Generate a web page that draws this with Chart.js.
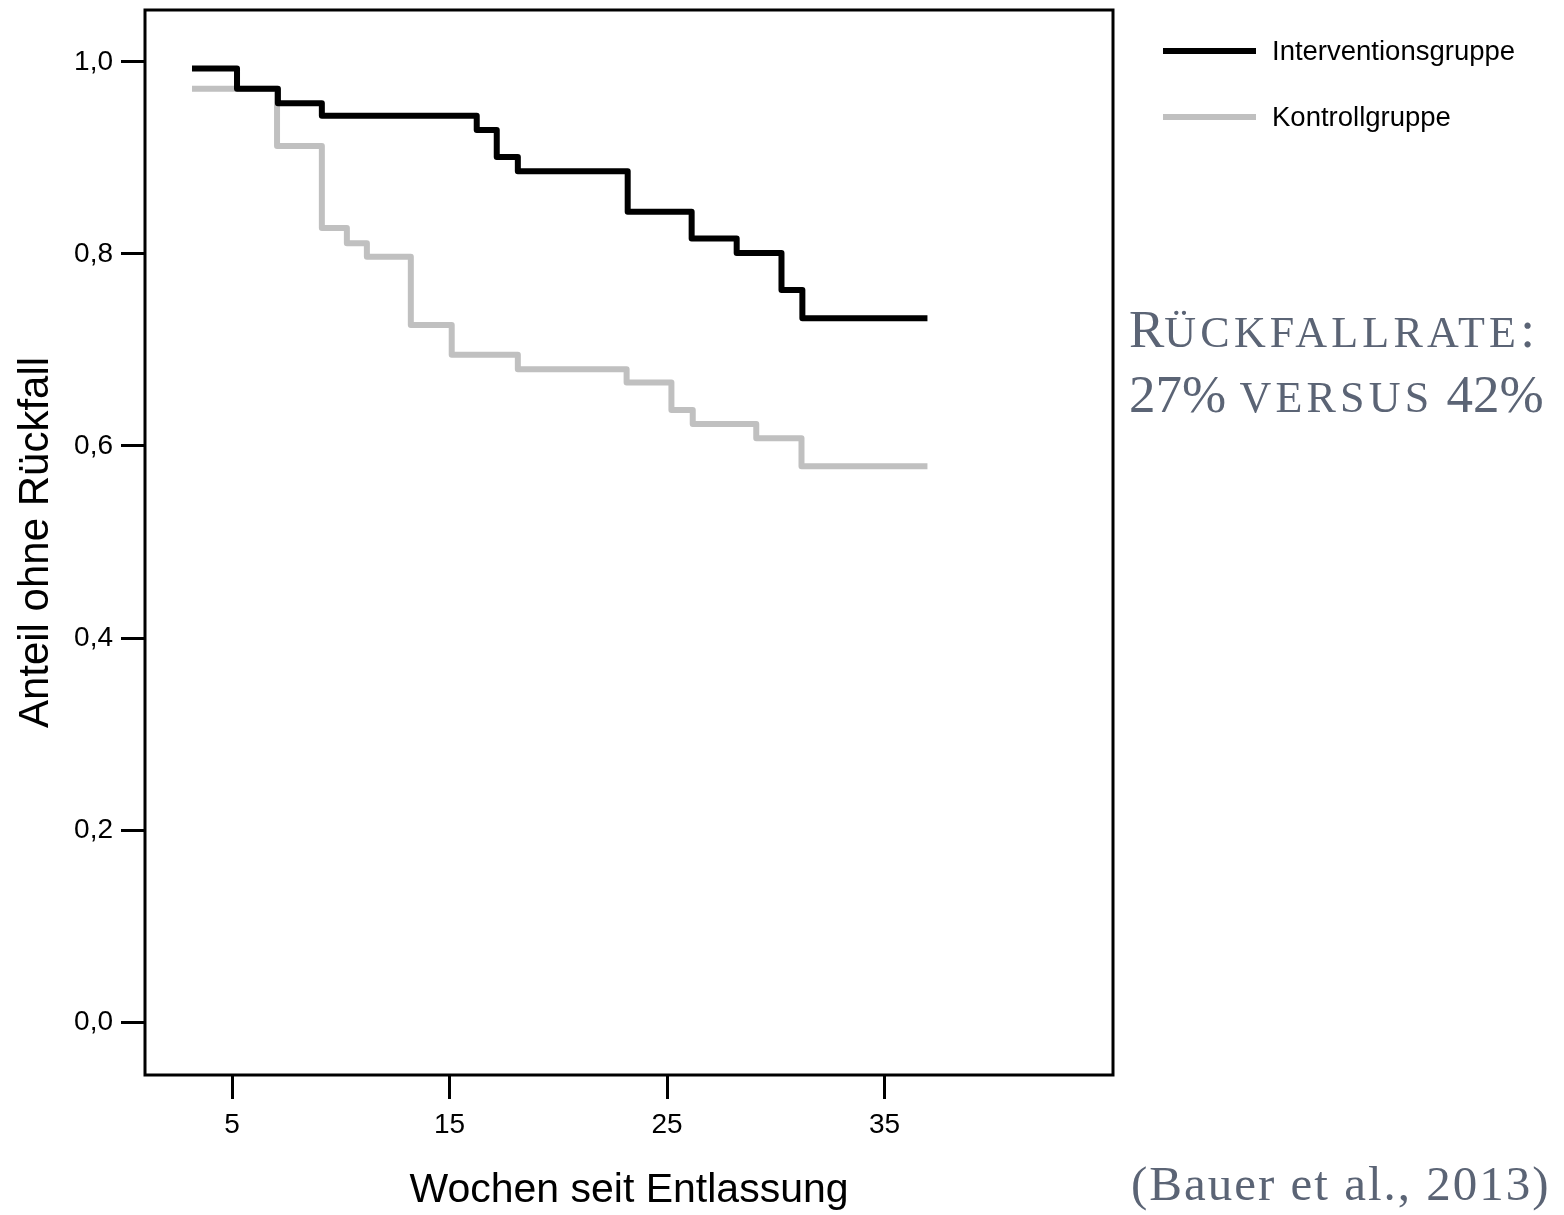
<!DOCTYPE html>
<html lang="de">
<head>
<meta charset="utf-8">
<title>Anteil ohne Rückfall</title>
<script src="https://cdn.jsdelivr.net/npm/chart.js@4.4.1/dist/chart.umd.min.js"></script>
<style>
    body { margin: 0; background: #fff; }
    .wrap { position: relative; width: 1564px; height: 1215px; }
    canvas { position: absolute; left: 0; top: 0; }
    .note {
        position: absolute;
        font-family: 'Liberation Serif', 'Times New Roman', serif;
        color: #5b6475;
        white-space: nowrap;
    }
    .rate { left: 1129px; top: 297px; font-size: 53px; line-height: 65px; }
    .rate .sc { font-size: 44px; line-height: 1; letter-spacing: 4.2px; }
    .cite { left: 1131px; top: 1159px; font-size: 49px; line-height: 49px; letter-spacing: 2px; }
</style>
</head>
<body>
<div class="wrap">
    <canvas id="kmChart" width="1564" height="1215"></canvas>
    <div class="note rate">R<span class="sc">ÜCKFALLRATE</span>:<br>27% <span class="sc">VERSUS</span> 42%</div>
    <div class="note cite">(Bauer et al., 2013)</div>
</div>

<script>
// Kaplan-Meier steps: week of each event and the share still without relapse after it
const weeksIntervention = [3.16, 5.23, 7.11, 9.13, 16.25, 17.17, 18.14, 23.19, 26.13, 28.2, 30.26, 31.22, 36.97];
const survivalIntervention = [0.993, 0.972, 0.957, 0.944, 0.929, 0.901, 0.886, 0.844, 0.816, 0.801, 0.7625, 0.733, 0.733];

const weeksControl = [3.16, 7.07, 9.13, 10.28, 11.2, 13.22, 15.1, 18.14, 23.14, 25.2, 26.18, 29.1, 31.18, 36.97];
const survivalControl = [0.972, 0.9125, 0.827, 0.811, 0.797, 0.726, 0.695, 0.68, 0.666, 0.6375, 0.623, 0.608, 0.579, 0.579];

const groupLabels = ['Interventionsgruppe', 'Kontrollgruppe'];
const xTicks = [5, 15, 25, 35];
const yTicks = [0, 0.2, 0.4, 0.6, 0.8, 1.0];

Chart.defaults.font.family = "'Liberation Sans', Arial, sans-serif";
Chart.defaults.color = '#000';

function toPoints(xs, ys) {
    return xs.map((x, i) => ({ x: x, y: ys[i] }));
}

// Black frame around the plot area
const framePlugin = {
    id: 'frame',
    afterDatasetsDraw(chart) {
        const { ctx, chartArea: a } = chart;
        ctx.save();
        ctx.strokeStyle = '#000';
        ctx.lineWidth = 3;
        ctx.strokeRect(a.left, a.top, a.right - a.left, a.bottom - a.top);
        ctx.restore();
    }
};

// Legend to the right of the plot, line sample + label
const sideLegend = {
    id: 'sideLegend',
    afterDraw(chart) {
        const { ctx } = chart;
        ctx.save();
        ctx.font = "27.5px 'Liberation Sans', Arial, sans-serif";
        ctx.textBaseline = 'middle';
        ctx.textAlign = 'left';
        chart.data.datasets.forEach((ds, i) => {
            const y = 51 + i * 66;
            ctx.strokeStyle = ds.borderColor;
            ctx.lineWidth = 6;
            ctx.beginPath();
            ctx.moveTo(1163, y);
            ctx.lineTo(1256, y);
            ctx.stroke();
            ctx.fillStyle = '#000';
            ctx.fillText(ds.label, 1272, y + 1);
        });
        ctx.restore();
    }
};

// Fixed axis sizes, no extra room reserved for edge labels
function fixAxis(size) {
    return axis => {
        if (axis.isHorizontal()) axis.height = size; else axis.width = size;
        axis.paddingTop = 0;
        axis.paddingBottom = 0;
        axis.paddingLeft = 0;
        axis.paddingRight = 0;
    };
}

const lineStyle = {
    borderWidth: 6,
    borderJoinStyle: 'round',
    borderCapStyle: 'butt',
    pointRadius: 0,
    fill: false,
    stepped: 'before'
};

new Chart(document.getElementById('kmChart'), {
    type: 'line',
    data: {
        datasets: [
            { ...lineStyle, label: groupLabels[0], data: toPoints(weeksIntervention, survivalIntervention), borderColor: '#000000', order: 0 },
            { ...lineStyle, label: groupLabels[1], data: toPoints(weeksControl, survivalControl), borderColor: '#c0c0c0', order: 1 }
        ]
    },
    options: {
        responsive: false,
        animation: false,
        events: [],
        layout: { padding: { top: 10, right: 451, bottom: 0, left: 0 } },
        plugins: {
            legend: { display: false },
            tooltip: { enabled: false }
        },
        scales: {
            x: {
                type: 'linear',
                min: 1,
                max: 45.5,
                afterBuildTicks: axis => { axis.ticks = xTicks.map(v => ({ value: v })); },
                afterFit: fixAxis(140),
                border: { display: false },
                grid: { drawOnChartArea: false, drawTicks: true, tickLength: 24, tickWidth: 3, tickColor: '#000' },
                ticks: { font: { size: 28 }, padding: 9, maxRotation: 0 },
                title: { display: true, text: 'Wochen seit Entlassung', font: { size: 41 }, padding: { top: 0, bottom: 0 } }
            },
            y: {
                type: 'linear',
                min: -0.055,
                max: 1.054,
                afterBuildTicks: axis => { axis.ticks = yTicks.map(v => ({ value: v })); },
                afterFit: fixAxis(145),
                border: { display: false },
                grid: { drawOnChartArea: false, drawTicks: true, tickLength: 24, tickWidth: 3, tickColor: '#000' },
                ticks: {
                    font: { size: 28 },
                    padding: 8,
                    callback: v => v.toFixed(1).replace('.', ',')
                },
                title: { display: true, text: 'Anteil ohne Rückfall', font: { size: 42 }, padding: { top: 11, bottom: 0 } }
            }
        }
    },
    plugins: [framePlugin, sideLegend]
});
</script>
</body>
</html>
